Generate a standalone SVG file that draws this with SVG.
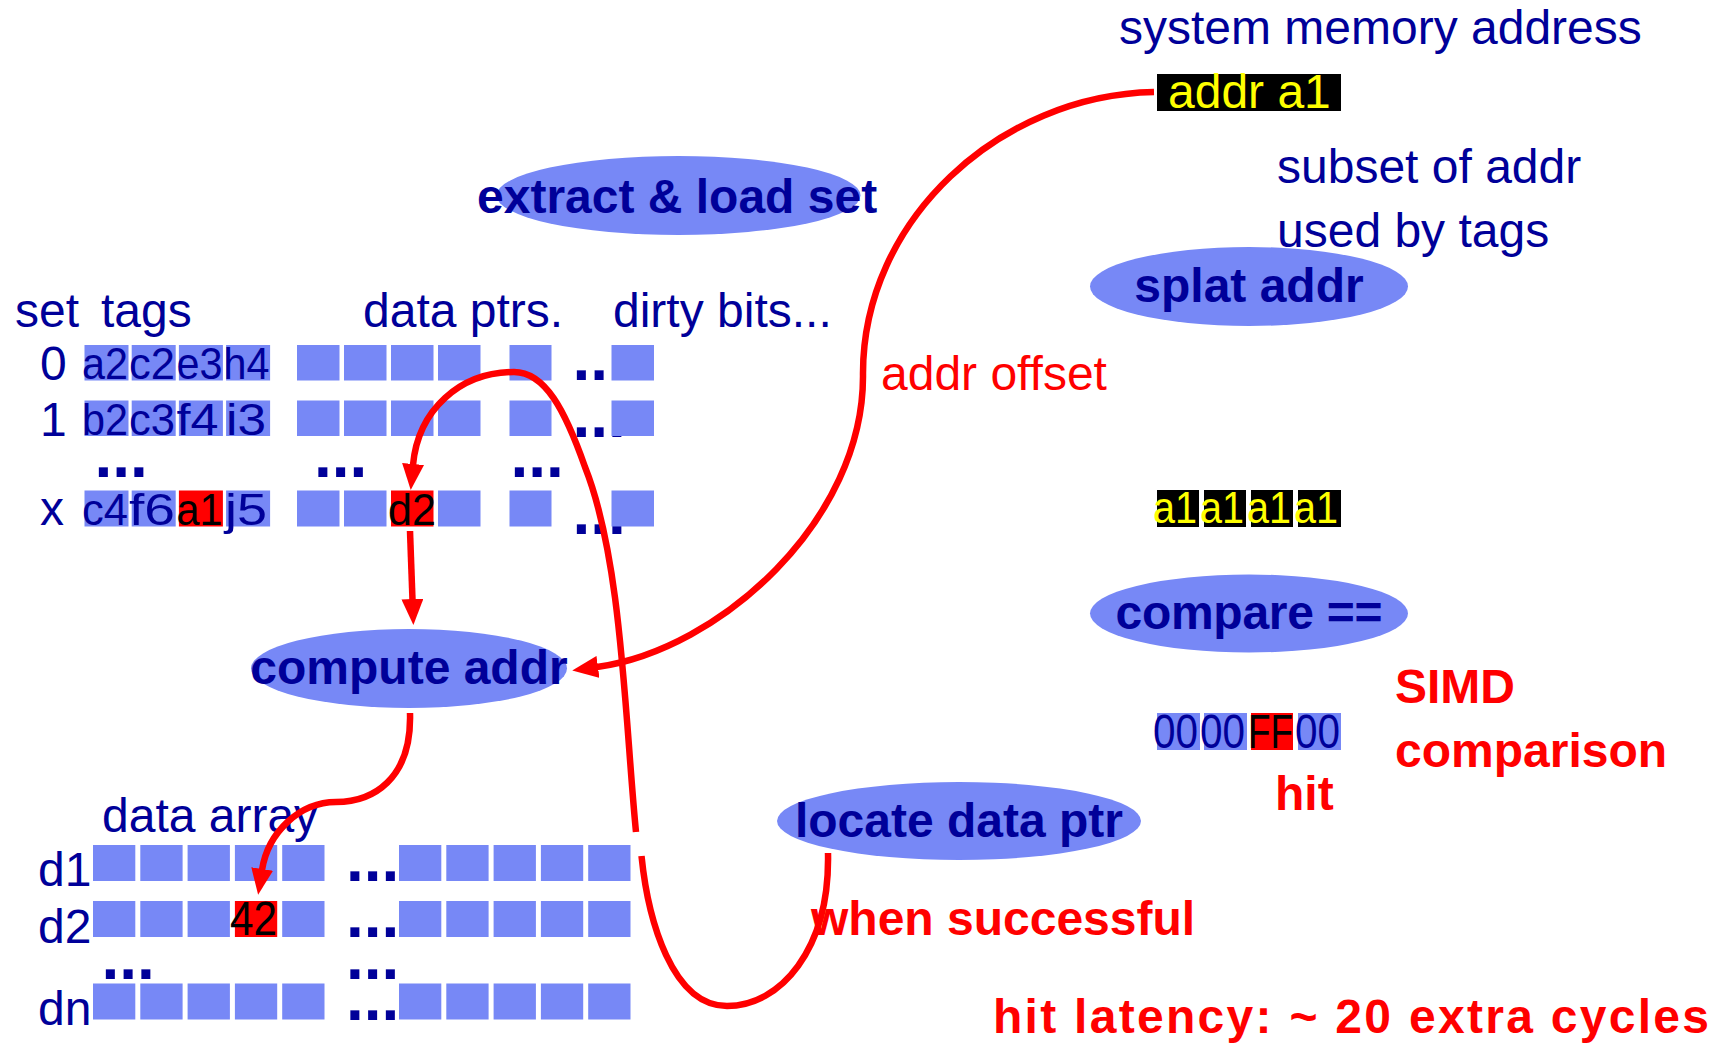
<svg xmlns="http://www.w3.org/2000/svg" width="1727" height="1044" viewBox="0 0 1727 1044">
  <style>
    .t { font-family: "Liberation Sans", Arial, Helvetica, sans-serif; font-size: 48px; fill: #000099; }
    .b { font-weight: bold; }
    .red { fill: #ff0000; }
    .blk { fill: #000000; }
    .yel { fill: #ffff00; }
    .cell { font-size: 44px; }
    .box { fill: #7788f6; }
    .hot { fill: #ff0000; }
    .dark { fill: #000000; }
    .dots { font-family: "Liberation Sans", Arial, sans-serif; font-weight: bold; font-size: 64px; fill: #000099; }
    .node ellipse { fill: #7788f6; }
    .wire { fill: none; stroke: #ff0000; stroke-width: 6.5; }
  </style>
  <defs>
    <marker id="head" viewBox="0 0 26 22" refX="1" refY="11" markerWidth="26" markerHeight="22" markerUnits="userSpaceOnUse" orient="auto">
      <path d="M0,0 L26,11 L0,22 z" fill="#ff0000"/>
    </marker>
  </defs>

  <rect width="1727" height="1044" fill="#ffffff"/>

  <!-- system memory address -->
  <g id="address">
    <text class="t" x="1119" y="44">system memory address</text>
    <rect class="dark" x="1157" y="74" width="184" height="37"/>
    <text class="t yel" x="1168" y="108" font-size="46">addr a1</text>
    <text class="t" x="1277" y="183">subset of addr</text>
    <text class="t" x="1277" y="247">used by tags</text>
  </g>

  <!-- process nodes -->
  <g id="extract" class="node">
    <ellipse cx="678.5" cy="195.5" rx="182" ry="39.5"/>
    <text class="t b" x="477" y="213">extract &amp; load set</text>
  </g>
  <g id="splat" class="node">
    <ellipse cx="1249" cy="286.5" rx="159" ry="39.5"/>
    <text class="t b" x="1249" y="302" text-anchor="middle">splat addr</text>
  </g>
  <g id="compare" class="node">
    <ellipse cx="1249" cy="613.5" rx="159" ry="39"/>
    <text class="t b" x="1249" y="629" text-anchor="middle" textLength="267">compare ==</text>
  </g>
  <g id="compute" class="node">
    <ellipse cx="409" cy="668.5" rx="158" ry="39.5"/>
    <text class="t b" x="409" y="684" text-anchor="middle">compute addr</text>
  </g>
  <g id="locate" class="node">
    <ellipse cx="959" cy="821" rx="182" ry="39"/>
    <text class="t b" x="959" y="837" text-anchor="middle">locate data ptr</text>
  </g>

  <!-- splatted address -->
  <g id="splatted">
    <rect class="dark" x="1157" y="490" width="42" height="37"/>
    <rect class="dark" x="1204" y="490" width="42" height="37"/>
    <rect class="dark" x="1251" y="490" width="42" height="37"/>
    <rect class="dark" x="1298" y="490" width="43" height="37"/>
    <text class="t yel cell" x="1153" y="523" textLength="44" lengthAdjust="spacingAndGlyphs">a1</text>
    <text class="t yel cell" x="1200" y="523" textLength="44" lengthAdjust="spacingAndGlyphs">a1</text>
    <text class="t yel cell" x="1247" y="523" textLength="44" lengthAdjust="spacingAndGlyphs">a1</text>
    <text class="t yel cell" x="1294" y="523" textLength="44" lengthAdjust="spacingAndGlyphs">a1</text>
  </g>

  <!-- comparison mask -->
  <g id="mask">
    <rect class="box" x="1157" y="713" width="43" height="37"/>
    <rect class="box" x="1204" y="713" width="43" height="37"/>
    <rect class="hot" x="1251" y="713" width="42" height="37"/>
    <rect class="box" x="1298" y="713" width="43" height="37"/>
    <text class="t" x="1153" y="748" font-size="46" textLength="45" lengthAdjust="spacingAndGlyphs">00</text>
    <text class="t" x="1200" y="748" font-size="46" textLength="45" lengthAdjust="spacingAndGlyphs">00</text>
    <text class="t blk" x="1248" y="748" font-size="46" textLength="45" lengthAdjust="spacingAndGlyphs">FF</text>
    <text class="t" x="1295" y="748" font-size="46" textLength="45" lengthAdjust="spacingAndGlyphs">00</text>
    <text class="t b red" x="1275" y="810">hit</text>
  </g>

  <g id="simd-note">
    <text class="t b red" x="1395" y="703">SIMD</text>
    <text class="t b red" x="1395" y="767">comparison</text>
  </g>

  <!-- tag / data pointer table -->
  <g id="tag-table">
    <text class="t" x="15" y="327">set</text>
    <text class="t" x="101" y="327">tags</text>
    <text class="t" x="363" y="327">data ptrs.</text>
    <text class="t" x="613" y="327">dirty bits...</text>

    <text class="t" x="40" y="380">0</text>
    <text class="t" x="40" y="436">1</text>
    <text class="t" x="40" y="525">x</text>

    <!-- row 0 -->
    <rect class="box" x="84.5" y="345" width="44" height="35.5"/>
    <rect class="box" x="131.7" y="345" width="44" height="35.5"/>
    <rect class="box" x="178.9" y="345" width="44" height="35.5"/>
    <rect class="box" x="226.1" y="345" width="44" height="35.5"/>
    <rect class="box" x="297" y="345" width="42.5" height="35.5"/>
    <rect class="box" x="344" y="345" width="42.5" height="35.5"/>
    <rect class="box" x="391" y="345" width="42.5" height="35.5"/>
    <rect class="box" x="438" y="345" width="42.5" height="35.5"/>
    <rect class="box" x="509.5" y="345" width="42" height="35.5"/>
    <text class="dots" x="572.5" y="380">...</text>
    <rect class="box" x="611.5" y="345" width="42.5" height="35.5"/>
    <text class="t cell" x="82" y="379" textLength="46" lengthAdjust="spacingAndGlyphs">a2</text>
    <text class="t cell" x="129" y="379" textLength="46" lengthAdjust="spacingAndGlyphs">c2</text>
    <text class="t cell" x="176.5" y="379" textLength="46" lengthAdjust="spacingAndGlyphs">e3</text>
    <text class="t cell" x="223.5" y="379" textLength="46" lengthAdjust="spacingAndGlyphs">h4</text>

    <!-- row 1 -->
    <rect class="box" x="84.5" y="400.5" width="44" height="35.5"/>
    <rect class="box" x="131.7" y="400.5" width="44" height="35.5"/>
    <rect class="box" x="178.9" y="400.5" width="44" height="35.5"/>
    <rect class="box" x="226.1" y="400.5" width="44" height="35.5"/>
    <rect class="box" x="297" y="400.5" width="42.5" height="35.5"/>
    <rect class="box" x="344" y="400.5" width="42.5" height="35.5"/>
    <rect class="box" x="391" y="400.5" width="42.5" height="35.5"/>
    <rect class="box" x="438" y="400.5" width="42.5" height="35.5"/>
    <rect class="box" x="509.5" y="400.5" width="42" height="35.5"/>
    <text class="dots" x="572.5" y="436.5">...</text>
    <rect class="box" x="611.5" y="400.5" width="42.5" height="35.5"/>
    <text class="t cell" x="82" y="435" textLength="46" lengthAdjust="spacingAndGlyphs">b2</text>
    <text class="t cell" x="129" y="435" textLength="46" lengthAdjust="spacingAndGlyphs">c3</text>
    <text class="t cell" x="176.5" y="435" textLength="42" lengthAdjust="spacingAndGlyphs">f4</text>
    <text class="t cell" x="226" y="435" textLength="40" lengthAdjust="spacingAndGlyphs">i3</text>

    <!-- elided rows -->
    <text class="dots" x="94.5" y="477">...</text>
    <text class="dots" x="314" y="477">...</text>
    <text class="dots" x="510.5" y="477">...</text>

    <!-- row x -->
    <rect class="box" x="84.5" y="490.5" width="44" height="36"/>
    <rect class="box" x="131.7" y="490.5" width="44" height="36"/>
    <rect class="hot" x="178.9" y="490.5" width="44" height="36"/>
    <rect class="box" x="226.1" y="490.5" width="44" height="36"/>
    <rect class="box" x="297" y="490.5" width="42.5" height="36"/>
    <rect class="box" x="344" y="490.5" width="42.5" height="36"/>
    <rect class="hot" x="391" y="490.5" width="42.5" height="36"/>
    <rect class="box" x="438" y="490.5" width="42.5" height="36"/>
    <rect class="box" x="509.5" y="490.5" width="42" height="36"/>
    <text class="dots" x="572.5" y="533.5">...</text>
    <rect class="box" x="611.5" y="490.5" width="42.5" height="36"/>
    <text class="t cell" x="82" y="525" textLength="46" lengthAdjust="spacingAndGlyphs">c4</text>
    <text class="t cell" x="129" y="525" textLength="46" lengthAdjust="spacingAndGlyphs">f6</text>
    <text class="t cell blk" x="176.5" y="525" textLength="46" lengthAdjust="spacingAndGlyphs">a1</text>
    <text class="t cell" x="225" y="525" textLength="42" lengthAdjust="spacingAndGlyphs">j5</text>
    <text class="t cell blk" x="388" y="525" textLength="48" lengthAdjust="spacingAndGlyphs">d2</text>
  </g>

  <!-- data array -->
  <g id="data-array">
    <text class="t" x="102" y="832">data array</text>
    <text class="t" x="38" y="886">d1</text>
    <text class="t" x="38" y="943">d2</text>
    <text class="t" x="38" y="1025">dn</text>

    <!-- d1 -->
    <rect class="box" x="93" y="845" width="42.3" height="36"/>
    <rect class="box" x="140.3" y="845" width="42.3" height="36"/>
    <rect class="box" x="187.6" y="845" width="42.3" height="36"/>
    <rect class="box" x="234.9" y="845" width="42.3" height="36"/>
    <rect class="box" x="282.2" y="845" width="42.3" height="36"/>
    <text class="dots" x="346" y="880.5">...</text>
    <rect class="box" x="399" y="845" width="42.3" height="36"/>
    <rect class="box" x="446.3" y="845" width="42.3" height="36"/>
    <rect class="box" x="493.6" y="845" width="42.3" height="36"/>
    <rect class="box" x="540.9" y="845" width="42.3" height="36"/>
    <rect class="box" x="588.2" y="845" width="42.3" height="36"/>

    <!-- d2 -->
    <rect class="box" x="93" y="901" width="42.3" height="36"/>
    <rect class="box" x="140.3" y="901" width="42.3" height="36"/>
    <rect class="box" x="187.6" y="901" width="42.3" height="36"/>
    <rect class="hot" x="234.9" y="901" width="42.3" height="36"/>
    <rect class="box" x="282.2" y="901" width="42.3" height="36"/>
    <text class="dots" x="346" y="936.5">...</text>
    <rect class="box" x="399" y="901" width="42.3" height="36"/>
    <rect class="box" x="446.3" y="901" width="42.3" height="36"/>
    <rect class="box" x="493.6" y="901" width="42.3" height="36"/>
    <rect class="box" x="540.9" y="901" width="42.3" height="36"/>
    <rect class="box" x="588.2" y="901" width="42.3" height="36"/>
    <text class="t blk" x="230" y="935" font-size="46" textLength="47" lengthAdjust="spacingAndGlyphs">42</text>

    <!-- elided rows -->
    <text class="dots" x="101.5" y="978.5">...</text>
    <text class="dots" x="346" y="978.5">...</text>

    <!-- dn -->
    <rect class="box" x="93" y="983.5" width="42.3" height="36"/>
    <rect class="box" x="140.3" y="983.5" width="42.3" height="36"/>
    <rect class="box" x="187.6" y="983.5" width="42.3" height="36"/>
    <rect class="box" x="234.9" y="983.5" width="42.3" height="36"/>
    <rect class="box" x="282.2" y="983.5" width="42.3" height="36"/>
    <text class="dots" x="346" y="1019.5">...</text>
    <rect class="box" x="399" y="983.5" width="42.3" height="36"/>
    <rect class="box" x="446.3" y="983.5" width="42.3" height="36"/>
    <rect class="box" x="493.6" y="983.5" width="42.3" height="36"/>
    <rect class="box" x="540.9" y="983.5" width="42.3" height="36"/>
    <rect class="box" x="588.2" y="983.5" width="42.3" height="36"/>
  </g>

  <!-- flow arrows -->
  <g id="connectors">
    <!-- address offset into compute addr -->
    <path class="wire" d="M1154,92 C1000,95 862,220 863,375 C864,520 720,650 597,667" marker-end="url(#head)"/>
    <!-- selected pointer down to compute addr -->
    <path class="wire" d="M410,531 L412.5,600" marker-end="url(#head)"/>
    <!-- computed address into data array -->
    <path class="wire" d="M410,713 C412,780 372,802 336,802 C300,802 268,832 262,870" marker-end="url(#head)"/>
    <!-- loop from locate data ptr back to the data pointer -->
    <path class="wire" d="M828,853 C830,950 780,1006 727,1006 C672,1006 648,920 641.5,856"/>
    <path class="wire" d="M636,832 C625,720 622,560 585,467 C565,410 545,372 514,372 C460,372 418,410 413,465" marker-end="url(#head)"/>
    <text class="t red" x="881" y="390">addr offset</text>
    <text class="t b red" x="811" y="935">when successful</text>
  </g>

  <g id="latency-note">
    <text class="t b red" x="993" y="1033" font-size="52" textLength="716">hit latency: ~ 20 extra cycles</text>
  </g>
</svg>
